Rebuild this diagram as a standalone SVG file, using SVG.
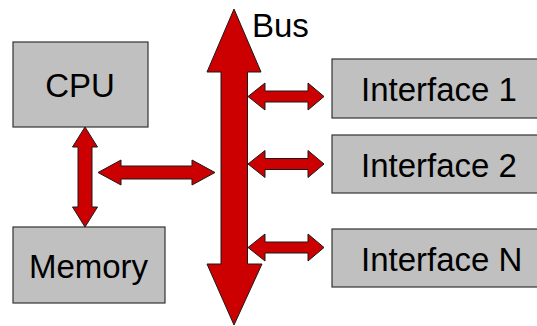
<svg xmlns="http://www.w3.org/2000/svg" width="537" height="326" viewBox="0 0 537 326">
  <style>
    .box { fill: #c0c0c0; stroke: #333333; stroke-width: 1.2; }
    .lbl { font-family: "Liberation Sans", Arial, sans-serif; font-size: 33px; fill: #000000; }
    .arrow { fill: #cc0000; stroke: #1a1a1a; stroke-width: 1; stroke-linejoin: miter; }
  </style>
  <rect width="537" height="326" fill="#ffffff"/>

  <g id="cpu">
    <rect class="box" x="13" y="42" width="135" height="85"/>
    <text class="lbl" x="80" y="97" text-anchor="middle">CPU</text>
  </g>

  <g id="memory">
    <rect class="box" x="13" y="227" width="152" height="76"/>
    <text class="lbl" x="88.5" y="278" text-anchor="middle">Memory</text>
  </g>

  <g id="interface1">
    <rect class="box" x="332" y="59" width="215" height="59"/>
    <text class="lbl" x="361" y="101">Interface 1</text>
  </g>

  <g id="interface2">
    <rect class="box" x="332" y="135" width="215" height="58"/>
    <text class="lbl" x="361" y="177">Interface 2</text>
  </g>

  <g id="interfaceN">
    <rect class="box" x="332" y="229" width="215" height="58"/>
    <text class="lbl" x="361" y="271">Interface N</text>
  </g>

  <g id="bus">
    <polygon class="arrow" points="234,9 261,72 247.5,72 247.5,264 262,264 234,325 207,264 221,264 221,72 207,72"/>
    <text class="lbl" x="252" y="37">Bus</text>
  </g>

  <g id="connectors">
    <!-- CPU <-> Memory -->
    <polygon class="arrow" points="85,127 97.5,147 92,147 92,207 97.5,207 85,227 72.5,207 78,207 78,147 72.5,147"/>
    <!-- CPU/Memory <-> Bus -->
    <polygon class="arrow" points="98,172.5 121,160 121,166 192,166 192,160 215,172.5 192,185 192,179 121,179 121,185"/>
    <!-- Bus <-> Interface 1 -->
    <polygon class="arrow" points="248,96.5 265,83 265,91 308,91 308,83 324,96.5 308,110 308,102 265,102 265,110"/>
    <!-- Bus <-> Interface 2 -->
    <polygon class="arrow" points="248,164 265,150.5 265,158.5 308,158.5 308,150.5 324,164 308,177.5 308,169.5 265,169.5 265,177.5"/>
    <!-- Bus <-> Interface N -->
    <polygon class="arrow" points="248,247.5 265,234 265,242 308,242 308,234 324,247.5 308,261 308,253 265,253 265,261"/>
  </g>
</svg>
